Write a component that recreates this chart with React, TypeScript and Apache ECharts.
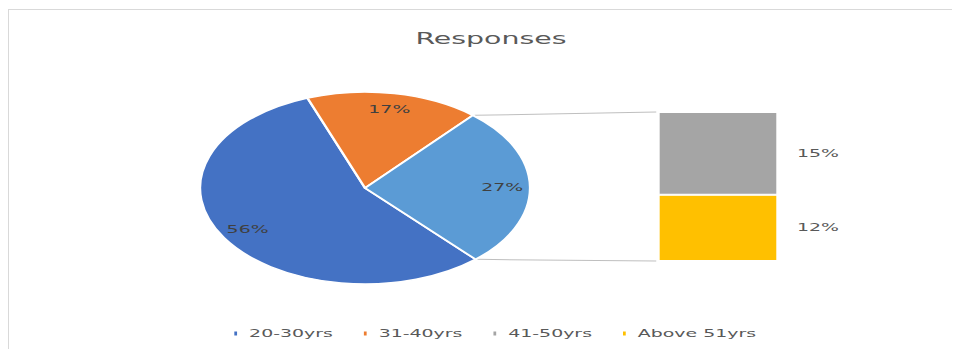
import React, { useEffect, useRef } from 'react';
import * as echarts from 'echarts';

// ---- data ----
const titleText = 'Responses';
const pieCategories = ['20-30yrs', '31-40yrs', 'Other'];
const pieValues = [56, 17, 27];
const barCategories = ['41-50yrs', 'Above 51yrs'];
const barValues = [15, 12];
const legendLabels = ['20-30yrs', '31-40yrs', '41-50yrs', 'Above 51yrs'];

// ---- style / layout ----
const COLORS: Record<string, string> = {
  '20-30yrs': '#4472C4',
  '31-40yrs': '#ED7D31',
  Other: '#5B9BD5',
  '41-50yrs': '#A5A5A5',
  'Above 51yrs': '#FFC000',
};
const S = 1.72; // horizontal stretch of the picture
const W = 553;
const H = 339;
const PIE_CX = 207;
const PIE_CY = 178;
const PIE_R = 96;
const START_ANGLE = 312;
const GRID_LEFT = 377.3;
const BAR_W = 69.8;
const GRID_TOP = 102;
const GRID_H = 149;
const FONT = 'DejaVu Sans';

export default function App() {
  const ref = useRef<HTMLDivElement>(null);

  useEffect(() => {
    if (!ref.current) return;
    const chart = echarts.init(ref.current, undefined, { renderer: 'svg' });
    const barTotal = barValues.reduce((a, b) => a + b, 0);

    const pieData = pieCategories.map((name, i) => ({
      name,
      value: pieValues[i],
      itemStyle: { color: COLORS[name] },
    }));

    // stacked from the bottom: last category at the bottom
    const barSeries = barCategories
      .map((name, i) => ({ name, value: barValues[i] }))
      .reverse()
      .map((d) => ({
        type: 'bar',
        name: d.name,
        stack: 'other',
        barWidth: BAR_W,
        data: [d.value],
        itemStyle: { color: COLORS[d.name], borderColor: '#ffffff', borderWidth: 1 },
        label: {
          show: true,
          position: 'right',
          distance: 11,
          formatter: '{c}%',
          color: '#595959',
          fontFamily: FONT,
          fontSize: 11,
        },
        emphasis: { disabled: true },
      }));

    chart.setOption({
      animation: false,
      backgroundColor: '#ffffff',
      color: legendLabels.map((n) => COLORS[n]),
      title: {
        text: titleText,
        left: 280.2,
        top: 19,
        padding: 0,
        textAlign: 'center',
        textStyle: { color: '#595959', fontFamily: FONT, fontSize: 16.5, fontWeight: 'normal' },
      },
      legend: {
        data: legendLabels,
        left: 129,
        top: 318,
        padding: 0,
        icon: 'rect',
        itemWidth: 3.6,
        itemHeight: 6,
        itemGap: 16,
        selectedMode: false,
        textStyle: { color: '#595959', fontFamily: FONT, fontSize: 11, padding: [0, 0, 0, 1] },
      },
      grid: { left: GRID_LEFT, top: GRID_TOP, width: BAR_W, height: GRID_H },
      xAxis: { type: 'category', data: ['Other'], show: false },
      yAxis: { type: 'value', min: 0, max: barTotal, show: false },
      series: [
        {
          type: 'pie',
          name: 'pie',
          center: [PIE_CX, PIE_CY],
          radius: [0, PIE_R],
          startAngle: START_ANGLE,
          clockwise: true,
          data: pieData,
          label: { show: false },
          labelLine: { show: false },
          itemStyle: { borderColor: '#ffffff', borderWidth: 1.5 },
          emphasis: { disabled: true },
        },
        {
          type: 'pie',
          name: 'pieLabels',
          center: [PIE_CX, PIE_CY],
          radius: [PIE_R * 0.6, PIE_R],
          startAngle: START_ANGLE,
          clockwise: true,
          silent: true,
          legendHoverLink: false,
          data: pieCategories.map((name, i) => ({
            name,
            value: pieValues[i],
            itemStyle: { color: 'rgba(0,0,0,0)' },
          })),
          label: {
            show: true,
            position: 'inside',
            formatter: '{c}%',
            color: '#404040',
            fontFamily: FONT,
            fontSize: 11,
          },
          labelLine: { show: false },
          emphasis: { disabled: true },
        },
        ...barSeries,
      ],
    });

    // connector lines from the "Other" slice edges to the bar stack corners
    const pieTotal = pieValues.reduce((a, b) => a + b, 0);
    const otherIdx = pieCategories.indexOf('Other');
    const before = pieValues.slice(0, otherIdx).reduce((a, b) => a + b, 0);
    const a1 = START_ANGLE - (before / pieTotal) * 360; // start of Other (upper edge)
    const a2 = START_ANGLE - ((before + pieValues[otherIdx]) / pieTotal) * 360; // lower edge
    const pt = (deg: number) => {
      const r = (deg * Math.PI) / 180;
      return [PIE_CX + PIE_R * Math.cos(r), PIE_CY - PIE_R * Math.sin(r)];
    };
    const p1 = pt(a1);
    const p2 = pt(a2);
    const top = chart.convertToPixel({ xAxisIndex: 0, yAxisIndex: 0 }, ['Other', barTotal]) as number[];
    const bot = chart.convertToPixel({ xAxisIndex: 0, yAxisIndex: 0 }, ['Other', 0]) as number[];
    const barLeft = top[0] - BAR_W / 2;
    chart.setOption({
      graphic: [
        {
          type: 'line',
          shape: { x1: p1[0] + 1, y1: p1[1], x2: barLeft - 1, y2: top[1] },
          style: { stroke: '#BFBFBF', lineWidth: 1 },
          silent: true,
        },
        {
          type: 'line',
          shape: { x1: p2[0] + 1, y1: p2[1], x2: barLeft - 1, y2: bot[1] },
          style: { stroke: '#BFBFBF', lineWidth: 1 },
          silent: true,
        },
      ],
    });

    return () => chart.dispose();
  }, []);

  return (
    <div
      style={{
        position: 'relative',
        top: 1,
        width: 952,
        height: 341,
        boxSizing: 'border-box',
        borderTop: '1px solid #d9d9d9',
        borderLeft: '1px solid #d9d9d9',
        borderBottom: '1px solid #eeeeee',
        overflow: 'hidden',
        background: '#ffffff',
      }}
    >
      <div
        ref={ref}
        style={{
          position: 'absolute',
          left: 0,
          top: 0,
          width: W,
          height: H,
          transform: `scaleX(${S})`,
          transformOrigin: '0 0',
        }}
      />
    </div>
  );
}
